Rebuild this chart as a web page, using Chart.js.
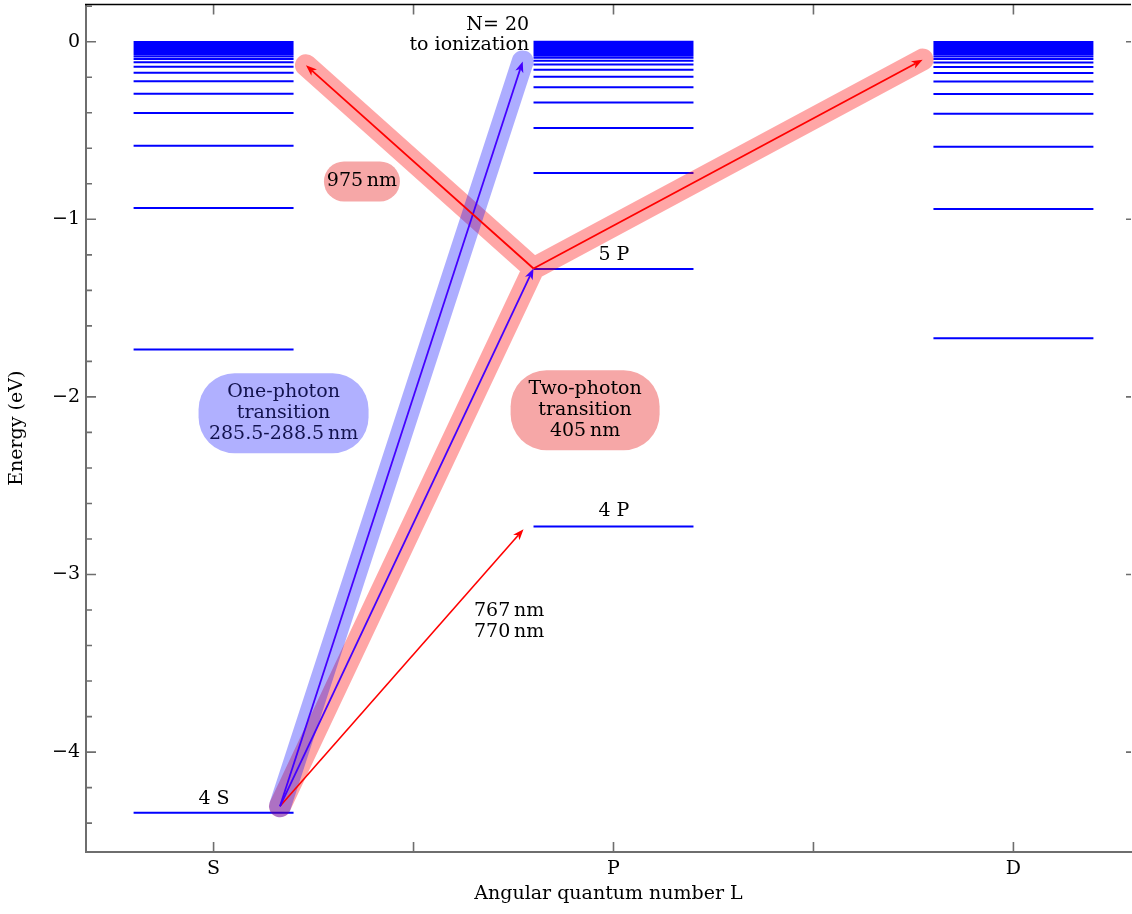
<!DOCTYPE html>
<html>
<head>
<meta charset="utf-8">
<script src="https://cdn.jsdelivr.net/npm/chart.js@4/dist/chart.umd.min.js"></script>
<style>
  html, body { margin: 0; padding: 0; background: #ffffff; overflow: hidden; }
  #wrap { width: 1132px; height: 914px; }
</style>
</head>
<body>
<div id="wrap"><canvas id="grotrian" width="1132" height="914"></canvas></div>
<script>
// Potassium term energies (eV below the ionization limit), one list per series
const seriesNames = ['S', 'P', 'D'];
const levelsS = [-4.341, -1.733, -0.937, -0.586, -0.402, -0.293, -0.223, -0.175, -0.141, -0.116,
  -0.097, -0.083, -0.071, -0.062, -0.054, -0.048, -0.043, -0.038, -0.034, -0.031, -0.028,
  -0.025, -0.022, -0.019, -0.016, -0.013, -0.010, -0.007, -0.004, -0.001];
const levelsP = [-2.730, -1.280, -0.739, -0.486, -0.343, -0.256, -0.198, -0.158, -0.128, -0.107,
  -0.090, -0.077, -0.067, -0.058, -0.051, -0.045, -0.040, -0.036, -0.032, -0.029, -0.026,
  -0.023, -0.020, -0.017, -0.014, -0.011, -0.008, -0.005, -0.002, 0.000];
const levelsD = [-1.670, -0.942, -0.592, -0.405, -0.295, -0.224, -0.176, -0.142, -0.117, -0.098,
  -0.083, -0.071, -0.062, -0.054, -0.048, -0.043, -0.038, -0.034, -0.031, -0.028, -0.025,
  -0.022, -0.019, -0.016, -0.013, -0.010, -0.007, -0.004, -0.001];

// Axis ticks
const energyTicks = [0, -1, -2, -3, -4];
const lTicks = [0, 0.5, 1, 1.5, 2];
const lTickLabels = ['S', '', 'P', '', 'D'];

// Transition end points as [L, energy]
const ground4S = [0.166, -4.305];
const level5P = [0.800, -1.277];
const level4P = [0.775, -2.745];
const rydbergEnd = [0.773, -0.111];
const irEnd = [0.231, -0.133];
const secondStepEnd = [1.773, -0.101];

const FONT = '"DejaVu Serif", "Liberation Serif", serif';
const LEVEL_HALF_WIDTH = 0.2;

function levelSegments(L, levels) {
  const pts = [];
  levels.forEach(E => {
    pts.push({ x: L - LEVEL_HALF_WIDTH, y: E }, { x: L + LEVEL_HALF_WIDTH, y: E }, { x: L, y: null });
  });
  return pts;
}

const allLevels = [levelsS, levelsP, levelsD];
const datasets = seriesNames.map((name, i) => ({
  label: name,
  data: levelSegments(i, allLevels[i]),
  showLine: true,
  spanGaps: false,
  borderColor: '#0000ff',
  borderWidth: 2,
  borderCapStyle: 'butt',
  pointRadius: 0,
  pointHoverRadius: 0,
  fill: false
}));

// Translucent bands behind the transition arrows
const bands = [
  { color: 'rgba(255, 0, 0, 0.35)', width: 22, segments: [[ground4S, level5P], [level5P, irEnd], [level5P, secondStepEnd]] },
  { color: 'rgba(0, 0, 255, 0.32)', width: 22, segments: [[ground4S, rydbergEnd]] }
];

// Thin arrows
const arrows = [
  { from: ground4S, to: level4P, color: '#ff0000', width: 1.6 },
  { from: ground4S, to: rydbergEnd, color: '#4400ff', width: 1.8 },
  { from: ground4S, to: level5P, color: '#4400ff', width: 1.8 },
  { from: level5P, to: irEnd, color: '#ff0000', width: 1.8 },
  { from: level5P, to: secondStepEnd, color: '#ff0000', width: 1.8 }
];

// Rounded label boxes
const pills = [
  { at: [0.175, -2.092], w: 170, h: 80, r: 36, fill: '#b0b0ff', color: '#12124e',
    lines: ['One-photon', 'transition', '285.5-288.5\u2009nm'] },
  { at: [0.929, -2.075], w: 149, h: 80, r: 36, fill: '#f6a7a7', color: '#000000',
    lines: ['Two-photon', 'transition', '405\u2009nm'] },
  { at: [0.371, -0.787], w: 76, h: 40, r: 20, fill: '#f6a7a7', color: '#000000',
    lines: ['975\u2009nm'] }
];

// Free text labels
const notes = [
  { at: [0.789, 0.094], align: 'right', lines: ['N= 20'] },
  { at: [0.789, -0.019], align: 'right', lines: ['to ionization'] },
  { at: [0.001, -4.264], align: 'center', lines: ['4 S'] },
  { at: [1.001, -1.201], align: 'center', lines: ['5 P'] },
  { at: [1.001, -2.642], align: 'center', lines: ['4 P'] },
  { at: [0.739, -3.267], align: 'center', lines: ['767\u2009nm', '770\u2009nm'] }
];

const TEXT_SIZE = 19;
const LINE_GAP = 21;

function px(chart, p) {
  return [chart.scales.x.getPixelForValue(p[0]), chart.scales.y.getPixelForValue(p[1])];
}

function drawLines(ctx, lines, x, y, align) {
  ctx.textAlign = align;
  ctx.textBaseline = 'middle';
  const y0 = y - (lines.length - 1) * LINE_GAP / 2;
  lines.forEach((t, i) => ctx.fillText(t, x, y0 + i * LINE_GAP));
}

const annotationsPlugin = {
  id: 'transitions',
  afterDatasetsDraw(chart) {
    const ctx = chart.ctx;
    ctx.save();
    // bands: one stroke per colour so the overlaps inside a band do not darken
    bands.forEach(b => {
      ctx.beginPath();
      b.segments.forEach(([a, c]) => {
        const [x0, y0] = px(chart, a);
        const [x1, y1] = px(chart, c);
        ctx.moveTo(x0, y0);
        ctx.lineTo(x1, y1);
      });
      ctx.strokeStyle = b.color;
      ctx.lineWidth = b.width;
      ctx.lineCap = 'round';
      ctx.lineJoin = 'round';
      ctx.stroke();
    });
    // arrows
    arrows.forEach(a => {
      const [x0, y0] = px(chart, a.from);
      const [x1, y1] = px(chart, a.to);
      const ang = Math.atan2(y1 - y0, x1 - x0);
      const len = 11, half = 4.2, notch = 8;
      ctx.strokeStyle = a.color;
      ctx.fillStyle = a.color;
      ctx.lineWidth = a.width;
      ctx.lineCap = 'butt';
      ctx.beginPath();
      ctx.moveTo(x0, y0);
      ctx.lineTo(x1 - Math.cos(ang) * notch, y1 - Math.sin(ang) * notch);
      ctx.stroke();
      ctx.save();
      ctx.translate(x1, y1);
      ctx.rotate(ang);
      ctx.beginPath();
      ctx.moveTo(0, 0);
      ctx.lineTo(-len, half);
      ctx.lineTo(-notch, 0);
      ctx.lineTo(-len, -half);
      ctx.closePath();
      ctx.fill();
      ctx.restore();
    });
    // boxes with text
    ctx.font = TEXT_SIZE + 'px ' + FONT;
    pills.forEach(p => {
      const [cx, cy] = px(chart, p.at);
      ctx.fillStyle = p.fill;
      ctx.beginPath();
      ctx.roundRect(cx - p.w / 2, cy - p.h / 2, p.w, p.h, p.r);
      ctx.fill();
      ctx.fillStyle = p.color;
      drawLines(ctx, p.lines, cx, cy, 'center');
    });
    ctx.fillStyle = '#000000';
    notes.forEach(n => {
      const [x, y] = px(chart, n.at);
      drawLines(ctx, n.lines, x, y, n.align);
    });
    ctx.restore();
  },
  afterDraw(chart) {
    const { ctx, chartArea: a, scales: { x, y } } = chart;
    ctx.save();
    ctx.strokeStyle = '#6e6e6e';
    ctx.lineWidth = 1.6;
    ctx.beginPath();
    // ticks along L (bottom and top, pointing inward)
    lTicks.forEach(v => {
      const X = x.getPixelForValue(v);
      ctx.moveTo(X, a.bottom); ctx.lineTo(X, a.bottom - 10);
      ctx.moveTo(X, a.top); ctx.lineTo(X, a.top + 10);
    });
    // energy ticks: major every 1 eV, minor every 0.2 eV
    for (let k = 1; k >= -22; k--) {
      const v = k * 0.2;
      if (v < y.min || v > y.max) continue;
      const Y = y.getPixelForValue(v);
      const major = Math.abs(v - Math.round(v)) < 1e-6;
      const L = major ? 10 : 6;
      ctx.moveTo(a.left, Y); ctx.lineTo(a.left + L, Y);
      if (major) { ctx.moveTo(a.right, Y); ctx.lineTo(a.right - 5, Y); }
    }
    ctx.stroke();
    // top frame line
    ctx.strokeStyle = '#000000';
    ctx.lineWidth = 1.5;
    ctx.beginPath();
    ctx.moveTo(a.left - 1, a.top);
    ctx.lineTo(a.right, a.top);
    ctx.stroke();
    ctx.restore();
  }
};

new Chart(document.getElementById('grotrian'), {
  type: 'scatter',
  data: { datasets },
  options: {
    responsive: false,
    devicePixelRatio: 1,
    animation: false,
    events: [],
    layout: { padding: { top: 4.5, right: 1, left: 0, bottom: 0 } },
    plugins: { legend: { display: false }, tooltip: { enabled: false } },
    scales: {
      x: {
        type: 'linear',
        min: -0.319,
        max: 2.294,
        afterBuildTicks: s => { s.ticks = lTicks.map(v => ({ value: v })); },
        afterFit: s => { s.height = 62; s.paddingLeft = 0; s.paddingRight = 0; },
        grid: { display: true, drawOnChartArea: false, drawTicks: false },
        border: { display: true, color: '#6e6e6e', width: 2 },
        ticks: {
          color: '#000000',
          padding: 6,
          maxRotation: 0,
          autoSkip: false,
          font: { family: FONT, size: 19 },
          callback: v => lTickLabels[lTicks.indexOf(v)] ?? ''
        },
        title: {
          display: true,
          text: 'Angular quantum number L',
          color: '#000000',
          font: { family: FONT, size: 19 },
          padding: { top: 0, bottom: 9 }
        }
      },
      y: {
        type: 'linear',
        min: -4.5625,
        max: 0.2095,
        afterBuildTicks: s => { s.ticks = energyTicks.map(v => ({ value: v })); },
        afterFit: s => { s.width = 86; s.paddingTop = 0; s.paddingBottom = 0; },
        grid: { display: true, drawOnChartArea: false, drawTicks: false },
        border: { display: true, color: '#6e6e6e', width: 2 },
        ticks: {
          color: '#000000',
          padding: 6,
          font: { family: FONT, size: 19 },
          callback: v => (v === 0 ? '0' : '\u2212' + Math.abs(v))
        },
        title: {
          display: true,
          text: 'Energy (eV)',
          color: '#000000',
          font: { family: FONT, size: 19 },
          padding: { top: 5.5, bottom: 0 }
        }
      }
    }
  },
  plugins: [annotationsPlugin]
});
</script>
</body>
</html>
